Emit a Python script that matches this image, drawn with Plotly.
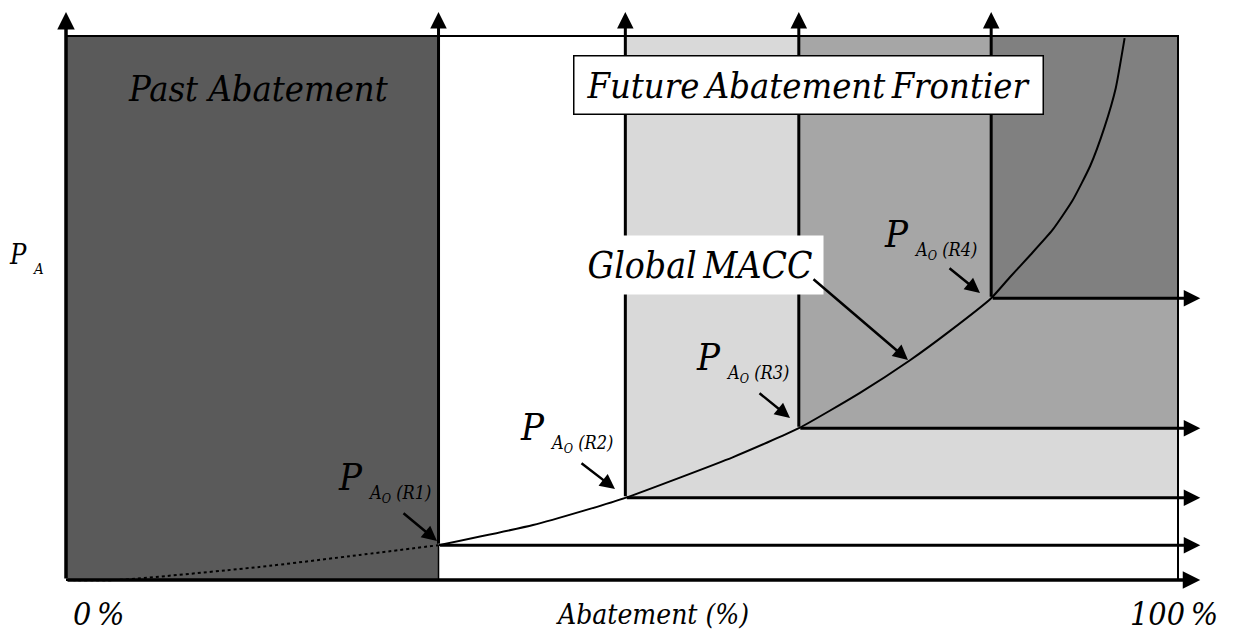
import plotly.graph_objects as go

# region breaks along the abatement axis (%) and the price level where each region starts
region_names = ["R1", "R2", "R3", "R4"]
abatement_breaks = [33.5, 50.3, 65.9, 83.2]
price_levels = [6.4, 15.1, 27.9, 51.8]
region_colors = ["#ffffff", "#d9d9d9", "#a6a6a6", "#808080"]

# global MACC
past_x = [0.0, 4.6, 17.4, 26.4, 33.5]
past_y = [0.0, 0.0, 2.4, 4.6, 6.4]
future_x = [33.5, 42.0, 46.5, 50.3, 60.0, 65.9, 71.4, 75.9, 79.5, 83.2,
            84.9, 86.7, 88.7, 90.5, 92.1, 93.4, 94.4, 95.2]
future_y = [6.4, 10.1, 12.7, 15.1, 22.6, 27.9, 34.4, 40.4, 45.8, 51.8,
            55.7, 59.7, 64.3, 69.7, 76.1, 83.3, 90.4, 99.6]

X_MAX, Y_MAX = 100.0, 100.0
ARROW_X, ARROW_Y = 102.0, 104.4

FONT = "DejaVu Serif Condensed"
PAGE_OFFSET = 8  # default body margin of the html page


# pixel helpers (page pixels), only for placing the text labels
def px_x(p):
    return (p - 66) / 11.12


def px_y(p):
    return (580 - p) / 5.44


fig = go.Figure()

# past abatement block
fig.add_trace(go.Scatter(x=[0, abatement_breaks[0], abatement_breaks[0], 0, 0],
                         y=[0, 0, Y_MAX, Y_MAX, 0], fill="toself", fillcolor="#5a5a5a",
                         mode="none", hoverinfo="skip"))
# future regions, layered
for x0, y0, col in zip(abatement_breaks, price_levels, region_colors):
    fig.add_trace(go.Scatter(x=[x0, X_MAX, X_MAX, x0, x0], y=[y0, y0, Y_MAX, Y_MAX, y0],
                             fill="toself", fillcolor=col, mode="none", hoverinfo="skip"))

# frame: top and right edges
fig.add_trace(go.Scatter(x=[0, X_MAX, X_MAX], y=[Y_MAX, Y_MAX, 0], mode="lines",
                         line=dict(color="black", width=2), hoverinfo="skip"))
fig.add_trace(go.Scatter(x=[abatement_breaks[0], abatement_breaks[0]], y=[0, price_levels[0]],
                         mode="lines", line=dict(color="black", width=1.5), hoverinfo="skip"))

# MACC curve
fig.add_trace(go.Scatter(x=past_x, y=past_y, mode="lines",
                         line=dict(color="black", width=2, dash="dot", shape="spline", smoothing=0.6),
                         hoverinfo="skip"))
fig.add_trace(go.Scatter(x=future_x, y=future_y, mode="lines",
                         line=dict(color="black", width=2, shape="spline", smoothing=0.5),
                         hoverinfo="skip"))

annotations = []


def arrow(x, y, ax, ay, w=2.5, size=1.2):
    annotations.append(dict(x=x, y=y, ax=ax, ay=ay, xref="x", yref="y", axref="x", ayref="y",
                            text="", showarrow=True, arrowhead=2, arrowsize=size,
                            arrowwidth=w, arrowcolor="black", standoff=0))


# axes
arrow(0, ARROW_Y, 0, 0, w=3.5, size=1.0)
arrow(ARROW_X, 0, 0, 0, w=3.5, size=1.0)
# region boundaries
for x0, y0 in zip(abatement_breaks, price_levels):
    arrow(x0, ARROW_Y, x0, y0, w=3, size=1.1)
    arrow(ARROW_X, y0, x0, y0, w=3, size=1.1)


def label(text, x, y, size, xanchor="center", **kw):
    d = dict(x=x, y=y, xref="x", yref="y", text=text, showarrow=False, xanchor=xanchor,
             yanchor="middle", font=dict(family=FONT, size=size, color="black", style="italic"))
    d.update(kw)
    annotations.append(d)


label("Past Abatement", px_x(258), px_y(88), 36)
label("Future\u2009Abatement\u2009Frontier", px_x(808), px_y(85), 36,
      bgcolor="white", bordercolor="black", borderwidth=1.5, width=466, height=55, borderpad=1)
label("Global\u2009MACC", px_x(700), px_y(265), 37, bgcolor="white", width=244, height=56)

label("0\u2009%", px_x(98), px_y(614), 32)
label("Abatement (%)", px_x(652), px_y(614), 28)
label("100\u2009%", px_x(1174), px_y(614), 32)

# P_A on the price axis
label("P", px_x(29), px_y(254), 27, xanchor="right")
label("A", px_x(30), px_y(269), 15, xanchor="left")

# P_Ao(Rn) labels: P left edge / baseline (px) and arrow tail -> tip (px)
p_label_px = [(343, 490), (525, 440), (701, 370), (889, 247)]
p_arrow_px = [((402, 512), (437, 541)), ((580, 462), (615, 489)),
              ((758, 392), (790, 418)), ((948, 267), (980, 293))]
for name, (bx, by), ((tx, ty), (hx, hy)) in zip(region_names, p_label_px, p_arrow_px):
    label("P", px_x(bx + 22), px_y(by - 13), 38, xanchor="right")
    label("A<sub>O</sub> (" + name + ")", px_x(bx + 23), px_y(by + 4), 18, xanchor="left")
    arrow(px_x(hx), px_y(hy), px_x(tx), px_y(ty), w=2.5)

# Global MACC pointer
arrow(px_x(908), px_y(360), px_x(812), px_y(278), w=2.5)

fig.update_layout(
    width=1247, height=639,
    margin=dict(l=0, r=0, t=0, b=0),
    paper_bgcolor="white", plot_bgcolor="white",
    showlegend=False,
    xaxis=dict(range=[px_x(PAGE_OFFSET), px_x(1247 + PAGE_OFFSET)], visible=False, fixedrange=True),
    yaxis=dict(range=[px_y(639 + PAGE_OFFSET), px_y(PAGE_OFFSET)], visible=False, fixedrange=True),
    annotations=annotations,
)

fig.write_html("out.html")
